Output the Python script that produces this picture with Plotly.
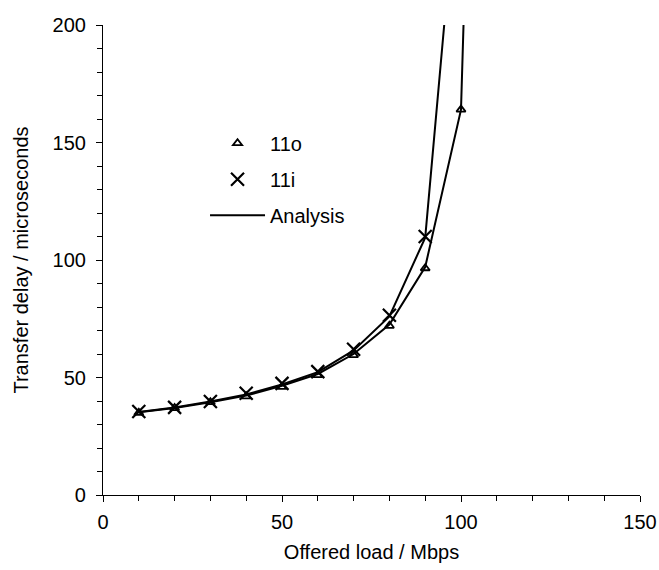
import plotly.graph_objects as go

# Data
load_sim = [10, 20, 30, 40, 50, 60, 70, 80, 90, 100]
delay_11o = [35.0, 37.0, 39.5, 42.0, 46.0, 51.0, 59.5, 72.0, 96.5, 164.0]
load_sim_i = [10, 20, 30, 40, 50, 60, 70, 80, 90]
delay_11i = [35.5, 37.3, 39.8, 43.3, 47.5, 52.5, 62.0, 76.5, 110.0]

# Analysis curves
load_an_o = [10, 20, 30, 40, 50, 60, 70, 80, 90, 100, 100.8]
delay_an_o = [35.2, 37.0, 39.5, 42.3, 46.5, 51.5, 60.0, 72.5, 97.0, 164.0, 205.0]
load_an_i = [10, 20, 30, 40, 50, 60, 70, 80, 90, 95.6]
delay_an_i = [35.3, 37.2, 39.8, 42.8, 47.0, 52.3, 61.5, 76.0, 109.5, 205.0]

FONT = "Liberation Sans, Arial, sans-serif"
FS = 20

fig = go.Figure()

fig.add_trace(go.Scatter(
    x=load_an_o, y=delay_an_o, mode="lines", name="Analysis",
    line=dict(color="black", width=2), showlegend=False, legendgroup="c"))
fig.add_trace(go.Scatter(
    x=load_an_i, y=delay_an_i, mode="lines", name="Analysis",
    line=dict(color="black", width=2), showlegend=False, legendgroup="c"))

fig.add_trace(go.Scatter(
    x=load_sim, y=delay_11o, mode="markers", name="11o", legendgroup="a",
    marker=dict(symbol="triangle-up-open", size=8, color="black",
                line=dict(color="black", width=1.8))))
fig.add_trace(go.Scatter(
    x=load_sim_i, y=delay_11i, mode="markers", name="11i", legendgroup="b",
    marker=dict(symbol="x-thin-open", size=13, color="black",
                line=dict(color="black", width=2.2))))
# legend entry for analysis line
fig.add_trace(go.Scatter(
    x=[None], y=[None], mode="lines", name="Analysis", legendgroup="c",
    line=dict(color="black", width=2)))

axis_common = dict(
    showline=True, linecolor="black", linewidth=1.2,
    ticks="outside", ticklen=6, tickwidth=1, tickcolor="black",
    showgrid=False, zeroline=False, automargin=False,
    tickfont=dict(family=FONT, size=FS, color="black"),
    minor=dict(ticks="outside", ticklen=5, tickwidth=1, tickcolor="black", dtick=10),
)

fig.update_xaxes(
    range=[0, 150], tickvals=[0, 50, 100, 150],
    title=dict(text="Offered load / Mbps", font=dict(family=FONT, size=FS, color="black"),
               standoff=12),
    ticklabelstandoff=3,
    **axis_common)
fig.update_yaxes(
    range=[0, 200], tickvals=[0, 50, 100, 150, 200],
    title=dict(text="Transfer delay / microseconds", font=dict(family=FONT, size=FS, color="black"),
               standoff=18),
    ticklabelstandoff=6,
    **axis_common)

fig.update_layout(
    width=659, height=570,
    margin=dict(l=103, r=19, t=25, b=75),
    paper_bgcolor="white", plot_bgcolor="white",
    font=dict(family=FONT, size=FS, color="black"),
    legend=dict(x=0.19, y=0.79, xanchor="left", yanchor="top",
                bgcolor="rgba(0,0,0,0)", tracegroupgap=7,
                font=dict(family=FONT, size=FS, color="black"),
                itemwidth=55),
)

fig.write_html("out.html", config={"displayModeBar": False},
               post_script="document.body.style.margin='0';")
